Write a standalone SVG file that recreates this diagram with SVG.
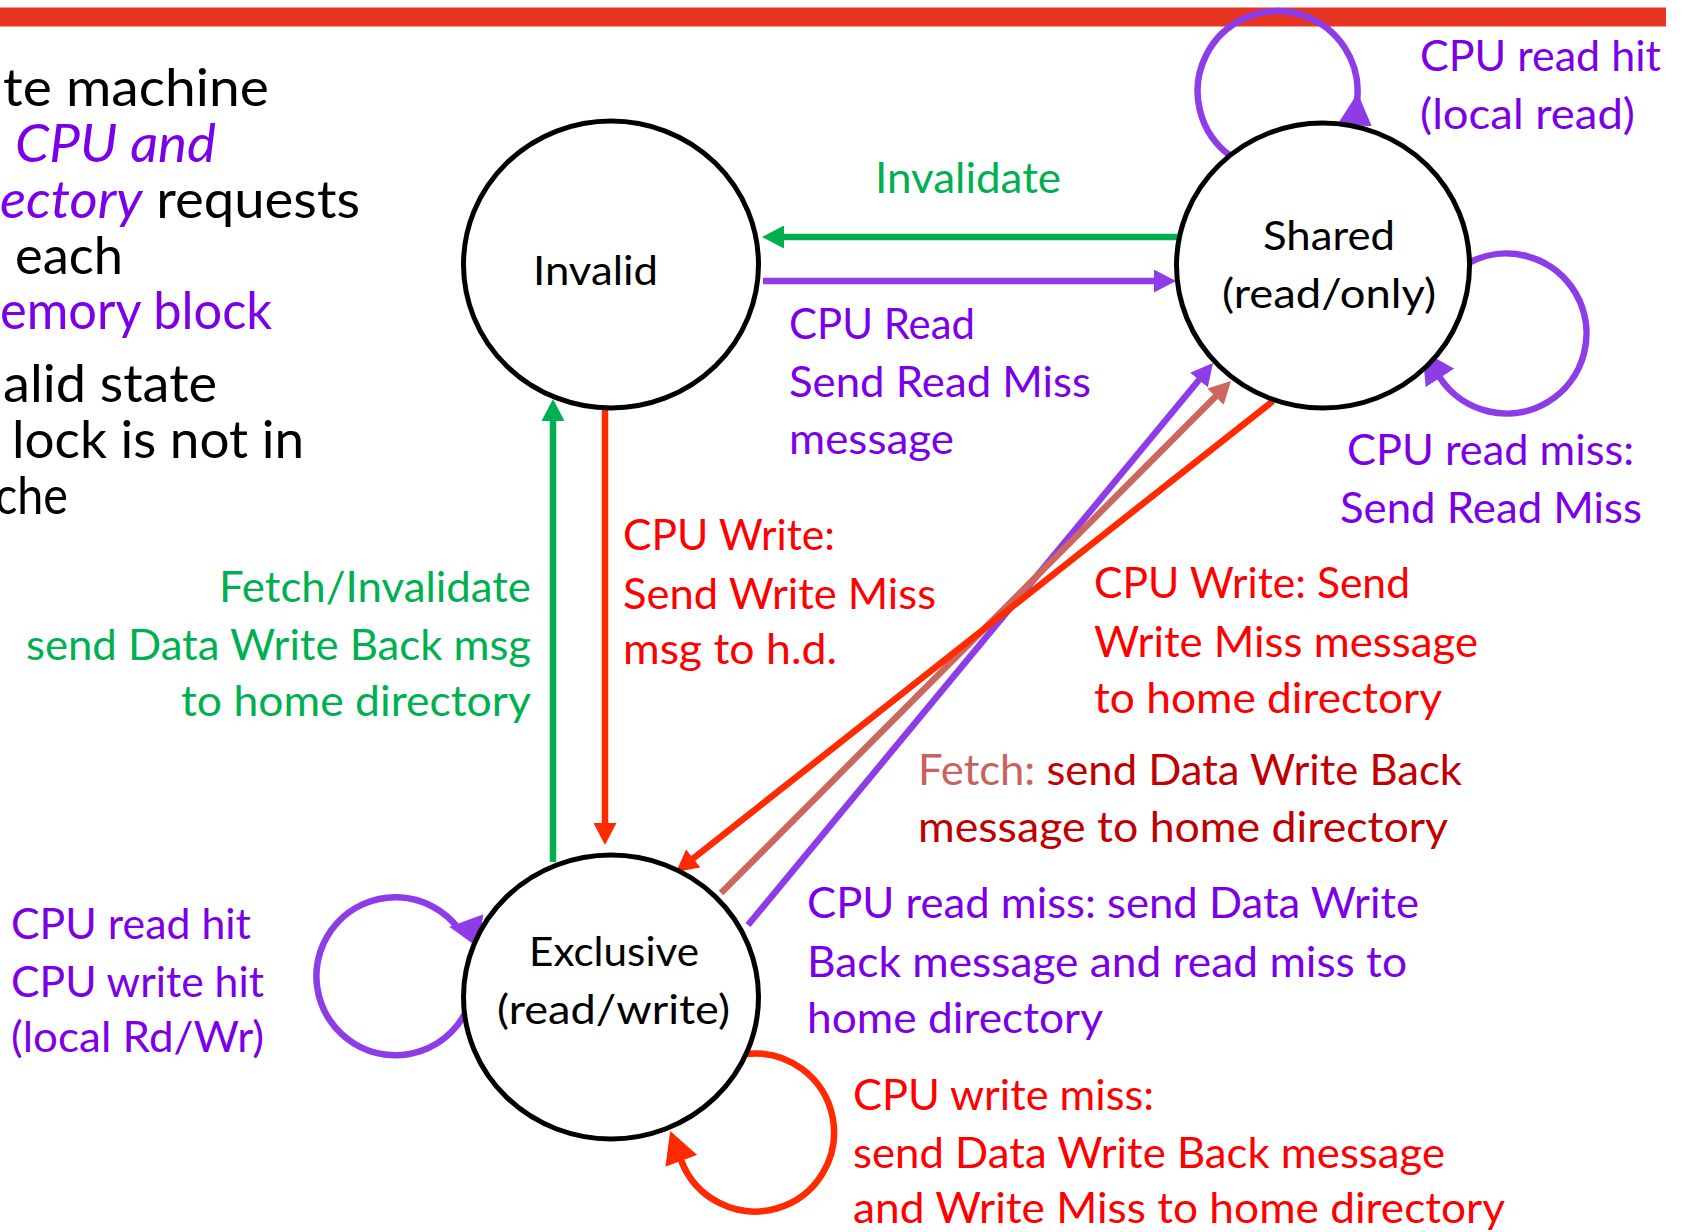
<svg xmlns="http://www.w3.org/2000/svg" width="1683" height="1232" viewBox="0 0 1683 1232">
<style>
  text { font-family: Lato, "Open Sans", "Liberation Sans", sans-serif; }
  .nt { font-size: 52px; fill: #000; }
  .st { font-size: 41px; fill: #000; }
  .lb { font-size: 43px; }
  .pt { fill: #7B00E8; }
  .gt { fill: #00B050; }
  .rt { fill: #FF0000; }
  .dr { fill: #C00000; }
  .sal { fill: #C9625B; }
  .it { font-style: italic; }
  .node { fill: #fff; stroke: #000; stroke-width: 5; }
  .c { fill: none; stroke-width: 6.5; }
  .cp { stroke: #8E3BE8; }
  .cg { stroke: #00B050; }
  .cr { stroke: #FF2A00; }
  .cb { stroke: #CC675E; }
</style>
<defs>
  <marker id="ah-p" viewBox="0 0 22 23" markerWidth="22" markerHeight="23" refX="1" refY="11.5" orient="auto" markerUnits="userSpaceOnUse"><path d="M0,0 L22,11.5 L0,23 z" fill="#8E3BE8"/></marker>
  <marker id="ah-g" viewBox="0 0 22 23" markerWidth="22" markerHeight="23" refX="1" refY="11.5" orient="auto" markerUnits="userSpaceOnUse"><path d="M0,0 L22,11.5 L0,23 z" fill="#00B050"/></marker>
  <marker id="ah-r" viewBox="0 0 22 23" markerWidth="22" markerHeight="23" refX="1" refY="11.5" orient="auto" markerUnits="userSpaceOnUse"><path d="M0,0 L22,11.5 L0,23 z" fill="#FF2A00"/></marker>
  <marker id="ah-b" viewBox="0 0 22 23" markerWidth="22" markerHeight="23" refX="1" refY="11.5" orient="auto" markerUnits="userSpaceOnUse"><path d="M0,0 L22,11.5 L0,23 z" fill="#CC675E"/></marker>
  <marker id="lh-p" viewBox="0 0 32 34" markerWidth="32" markerHeight="34" refX="1" refY="17" orient="auto" markerUnits="userSpaceOnUse"><path d="M0,0 L32,17 L0,34 z" fill="#8E3BE8"/></marker>
  <marker id="lh-r" viewBox="0 0 32 34" markerWidth="32" markerHeight="34" refX="1" refY="17" orient="auto" markerUnits="userSpaceOnUse"><path d="M0,0 L32,17 L0,34 z" fill="#FF2A00"/></marker>
</defs>
<rect width="1683" height="1232" fill="#fff"/>
<rect x="0" y="7.5" width="1666" height="19" fill="#E73522"/>

<g id="notes">
  <text class="nt" x="3" y="106" textLength="266" lengthAdjust="spacingAndGlyphs">te machine</text>
  <text class="nt pt it" x="15" y="162" textLength="201" lengthAdjust="spacingAndGlyphs">CPU and</text>
  <text class="nt" x="0" y="218" textLength="360" lengthAdjust="spacingAndGlyphs"><tspan class="pt it">ectory</tspan> requests</text>
  <text class="nt" x="15" y="274" textLength="108" lengthAdjust="spacingAndGlyphs">each</text>
  <text class="nt pt" x="0" y="329" textLength="272" lengthAdjust="spacingAndGlyphs">emory block</text>
  <text class="nt" x="3" y="402" textLength="214" lengthAdjust="spacingAndGlyphs">alid state</text>
  <text class="nt" x="12" y="458" textLength="292" lengthAdjust="spacingAndGlyphs">lock is not in</text>
  <text class="nt" x="-5" y="514" textLength="73" lengthAdjust="spacingAndGlyphs">che</text>
</g>

<g id="connectors">
  <line class="c cg" x1="1177" y1="237" x2="783" y2="237" marker-end="url(#ah-g)"/>
  <line class="c cp" x1="763" y1="281" x2="1155" y2="281" marker-end="url(#ah-p)"/>
  <line class="c cr" x1="605" y1="409" x2="605" y2="824" marker-end="url(#ah-r)"/>
  <line class="c cg" x1="553" y1="862" x2="553" y2="420" marker-end="url(#ah-g)"/>
  <line class="c cp" x1="748" y1="925" x2="1199.6" y2="379.2" marker-end="url(#ah-p)"/>
  <line class="c cb" x1="721" y1="893" x2="1216.2" y2="395.9" marker-end="url(#ah-b)"/>
  <line class="c cr" x1="1273" y1="401" x2="692.5" y2="859" marker-end="url(#ah-r)"/>
  <path class="c cp" d="M1355,124 L1357,101 A80,80 0 1 0 1230.7,156" marker-start="url(#lh-p)"/>
  <path class="c cp" d="M1468.3,263.2 A80,80 0 1 1 1439.4,377.1" marker-end="url(#lh-p)"/>
  <path class="c cp" d="M480,931 L458,928 A79,79 0 1 0 469,1005" marker-start="url(#lh-p)"/>
  <path class="c cr" d="M746,1054 A79,79 0 1 1 681,1160" marker-end="url(#lh-r)"/>
</g>

<g id="node-invalid">
  <ellipse class="node" cx="611" cy="264.5" rx="147.5" ry="143.5"/>
  <text class="st" x="533" y="285" textLength="125" lengthAdjust="spacingAndGlyphs">Invalid</text>
</g>
<g id="node-shared">
  <ellipse class="node" cx="1323" cy="265.5" rx="146.5" ry="142.5"/>
  <text class="st" x="1263" y="250" textLength="132" lengthAdjust="spacingAndGlyphs">Shared</text>
  <text class="st" x="1222" y="308" textLength="214" lengthAdjust="spacingAndGlyphs">(read/only)</text>
</g>
<g id="node-exclusive">
  <ellipse class="node" cx="611" cy="997" rx="147.5" ry="142"/>
  <text class="st" x="529" y="966" textLength="170" lengthAdjust="spacingAndGlyphs">Exclusive</text>
  <text class="st" x="497" y="1024" textLength="233" lengthAdjust="spacingAndGlyphs">(read/write)</text>
</g>

<g id="labels">
  <text class="lb gt" x="875" y="193" textLength="186" lengthAdjust="spacingAndGlyphs">Invalidate</text>
  <text class="lb pt" x="789" y="339" textLength="186" lengthAdjust="spacingAndGlyphs">CPU Read</text>
  <text class="lb pt" x="789" y="397" textLength="302" lengthAdjust="spacingAndGlyphs">Send Read Miss</text>
  <text class="lb pt" x="789" y="454" textLength="165" lengthAdjust="spacingAndGlyphs">message</text>

  <text class="lb pt" x="1420" y="71" textLength="241" lengthAdjust="spacingAndGlyphs">CPU read hit</text>
  <text class="lb pt" x="1420" y="129" textLength="215" lengthAdjust="spacingAndGlyphs">(local read)</text>
  <text class="lb pt" x="1347" y="465" textLength="287" lengthAdjust="spacingAndGlyphs">CPU read miss:</text>
  <text class="lb pt" x="1340" y="523" textLength="302" lengthAdjust="spacingAndGlyphs">Send Read Miss</text>

  <text class="lb rt" x="623" y="550" textLength="212" lengthAdjust="spacingAndGlyphs">CPU Write:</text>
  <text class="lb rt" x="623" y="609" textLength="313" lengthAdjust="spacingAndGlyphs">Send Write Miss</text>
  <text class="lb rt" x="623" y="664" textLength="214" lengthAdjust="spacingAndGlyphs">msg to h.d.</text>

  <text class="lb gt" x="219" y="602" textLength="312" lengthAdjust="spacingAndGlyphs">Fetch/Invalidate</text>
  <text class="lb gt" x="26" y="660" textLength="505" lengthAdjust="spacingAndGlyphs">send Data Write Back msg</text>
  <text class="lb gt" x="181" y="716" textLength="350" lengthAdjust="spacingAndGlyphs">to home directory</text>

  <text class="lb rt" x="1094" y="598" textLength="316" lengthAdjust="spacingAndGlyphs">CPU Write: Send</text>
  <text class="lb rt" x="1094" y="657" textLength="384" lengthAdjust="spacingAndGlyphs">Write Miss message</text>
  <text class="lb rt" x="1094" y="713" textLength="348" lengthAdjust="spacingAndGlyphs">to home directory</text>

  <text class="lb dr" x="918" y="785" textLength="544" lengthAdjust="spacingAndGlyphs"><tspan class="sal">Fetch:</tspan> send Data Write Back</text>
  <text class="lb dr" x="918" y="842" textLength="530" lengthAdjust="spacingAndGlyphs">message to home directory</text>

  <text class="lb pt" x="807" y="918" textLength="612" lengthAdjust="spacingAndGlyphs">CPU read miss: send Data Write</text>
  <text class="lb pt" x="807" y="977" textLength="600" lengthAdjust="spacingAndGlyphs">Back message and read miss to</text>
  <text class="lb pt" x="807" y="1033" textLength="296" lengthAdjust="spacingAndGlyphs">home directory</text>

  <text class="lb pt" x="11" y="939" textLength="240" lengthAdjust="spacingAndGlyphs">CPU read hit</text>
  <text class="lb pt" x="11" y="997" textLength="253" lengthAdjust="spacingAndGlyphs">CPU write hit</text>
  <text class="lb pt" x="11" y="1052" textLength="253" lengthAdjust="spacingAndGlyphs">(local Rd/Wr)</text>

  <text class="lb rt" x="853" y="1110" textLength="301" lengthAdjust="spacingAndGlyphs">CPU write miss:</text>
  <text class="lb rt" x="853" y="1168" textLength="592" lengthAdjust="spacingAndGlyphs">send Data Write Back message</text>
  <text class="lb rt" x="853" y="1223" textLength="652" lengthAdjust="spacingAndGlyphs">and Write Miss to home directory</text>
</g>
</svg>
